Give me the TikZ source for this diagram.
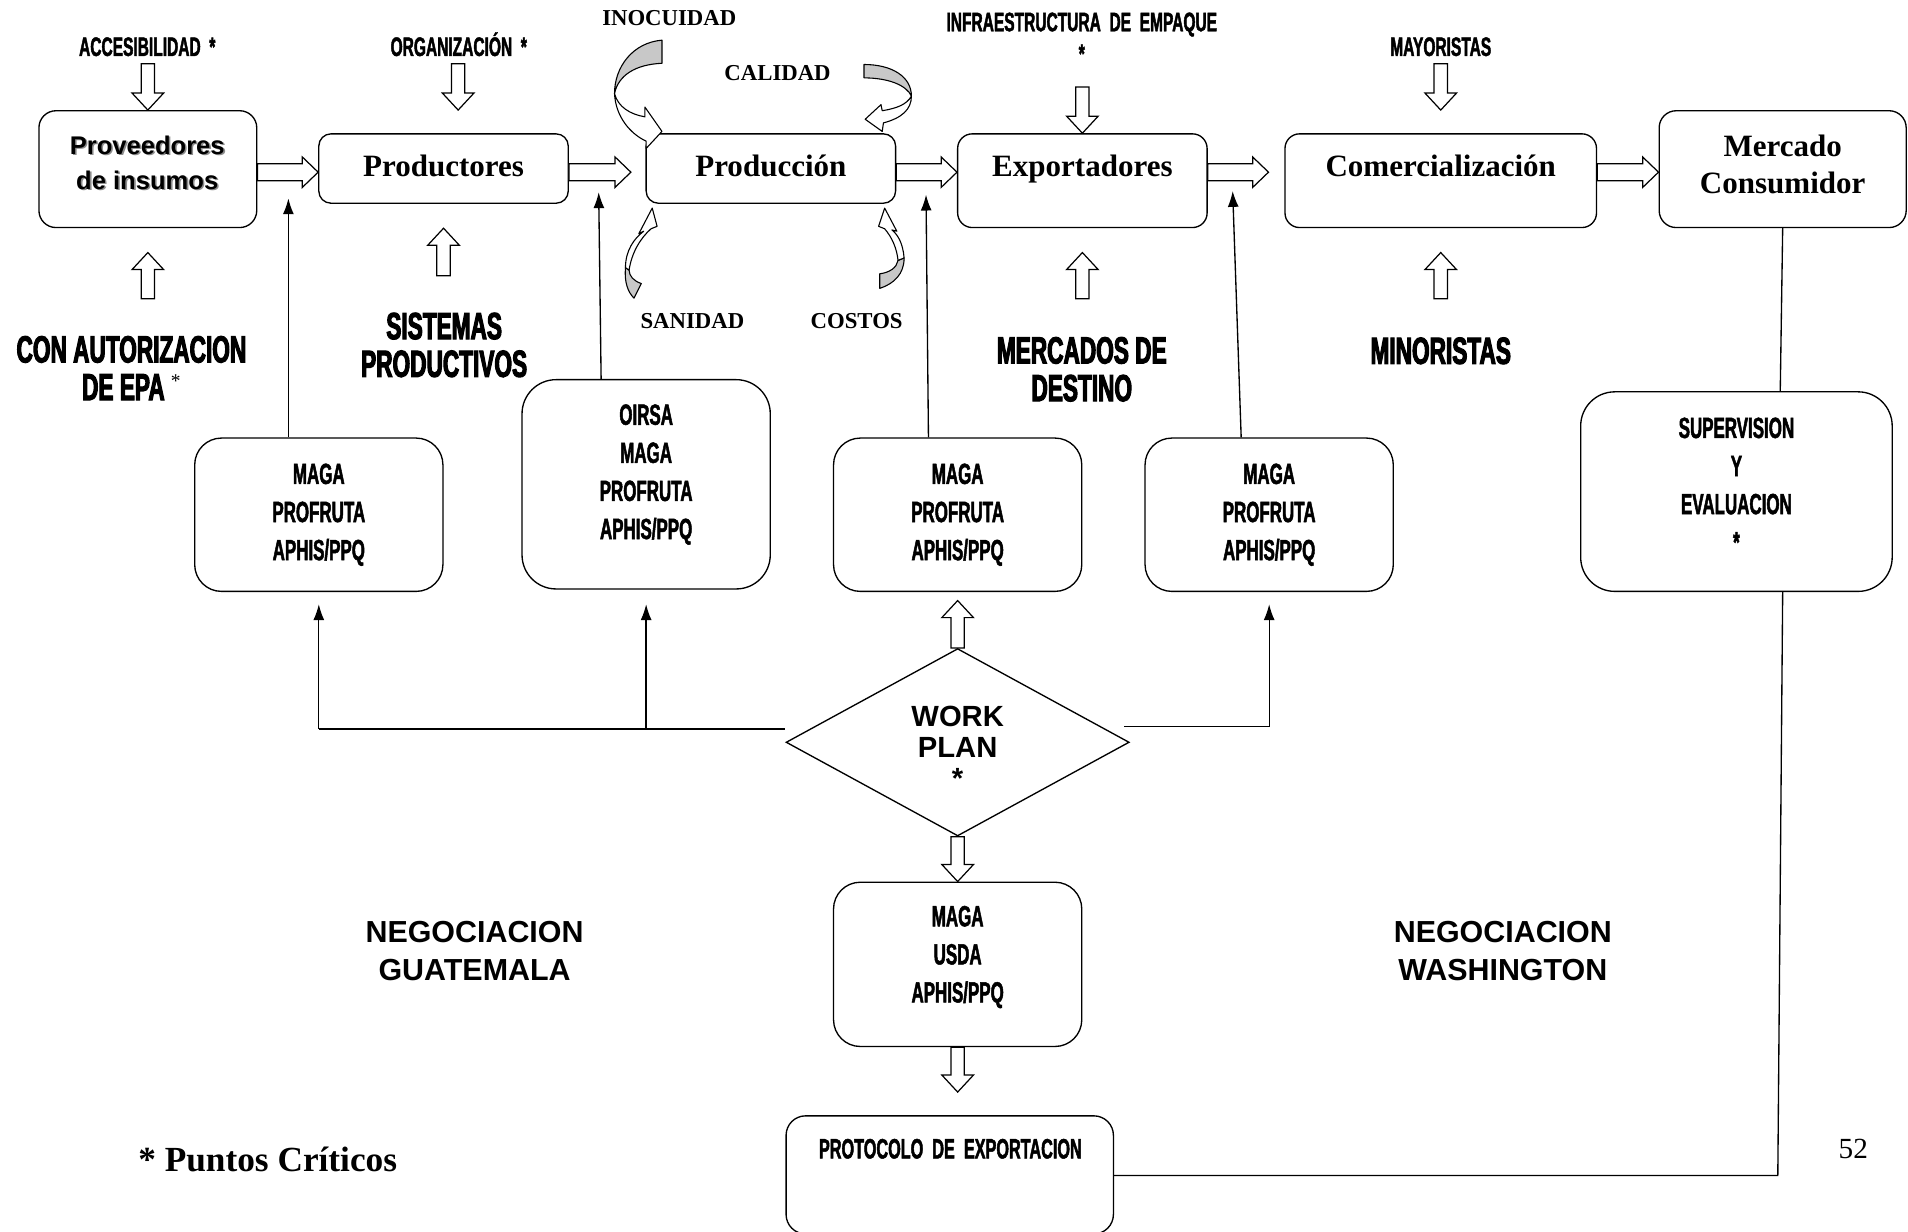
\documentclass[tikz,border=0pt]{standalone}
\usepackage{fontspec}
\setmainfont{Liberation Serif}
\newfontfamily\sansf{Liberation Sans}
\newfontfamily\condf[FakeStretch=0.58,FakeBold=1.6]{Liberation Sans}
\newfontfamily\condl[FakeStretch=0.6,FakeBold=2.8]{Liberation Sans}
\usetikzlibrary{shapes.geometric,arrows.meta,calc}
\definecolor{cg}{RGB}{200,200,200}
\newcommand\blkR[2]{\draw[blk] let \p1=(#1), \p2=(#2) in (\x1,\y1+7pt) -- (\x2-13pt,\y1+7pt) -- (\x2-13pt,\y1+12.5pt) -- (\x2,\y1) -- (\x2-13pt,\y1-12.5pt) -- (\x2-13pt,\y1-7pt) -- (\x1,\y1-7pt) -- cycle;}
\newcommand\blkD[2]{\draw[blk] let \p1=(#1), \p2=(#2) in (\x1-5.5pt,\y1) -- (\x1-5.5pt,\y2+14pt) -- (\x1-13pt,\y2+14pt) -- (\x1,\y2) -- (\x1+13pt,\y2+14pt) -- (\x1+5.5pt,\y2+14pt) -- (\x1+5.5pt,\y1) -- cycle;}
\newcommand\blkU[2]{\draw[blk] let \p1=(#1), \p2=(#2) in (\x1-5.5pt,\y1) -- (\x1-5.5pt,\y2-14pt) -- (\x1-13pt,\y2-14pt) -- (\x1,\y2) -- (\x1+13pt,\y2-14pt) -- (\x1+5.5pt,\y2-14pt) -- (\x1+5.5pt,\y1) -- cycle;}
\begin{document}
\begin{tikzpicture}[x=1pt,y=-1pt,
  bx/.style={draw, line width=1.1pt, rounded corners=#1, inner sep=0pt},
  bx/.default=12pt,
  blk/.style={draw, line width=1pt, fill=white, line join=miter},
  tar/.style={draw, line width=1.1pt, -{Latex[length=13pt,width=9pt]}},
  ln/.style={draw, line width=1.1pt},
  cur/.style={draw, line width=0.9pt, line join=round},
  serB/.style={font=\fontsize{25.5}{30}\selectfont\bfseries, inner sep=0pt},
  serS/.style={font=\fontsize{18.7}{22}\selectfont\bfseries, inner sep=0pt},
  csm/.style={font=\condf\bfseries\fontsize{22}{26}\selectfont, inner sep=0pt},
  cbx/.style={font=\condf\bfseries\fontsize{24}{31.3}\selectfont, align=center, inner sep=0pt},
  clg/.style={font=\condl\bfseries\fontsize{31}{31}\selectfont, align=center, inner sep=0pt},
  snb/.style={font=\sansf\bfseries\fontsize{25}{31}\selectfont, align=center, inner sep=0pt}]
\useasboundingbox (0,0) rectangle (1568,1012);
\fill[white] (0,0) rectangle (1568,1012);

% ---------- top row boxes
\node[bx=14pt, minimum width=179pt, minimum height=96pt] (prov) at (121.5,139) {};
\node[bx=10pt, minimum width=205pt, minimum height=57pt] (prod) at (364.5,138.5) {};
\node[bx=10pt, minimum width=205pt, minimum height=57pt] (prodn) at (633.5,138.5) {};
\node[bx=12pt, minimum width=205pt, minimum height=77pt] (exp) at (889.5,148.5) {};
\node[bx=12pt, minimum width=256pt, minimum height=77pt] (com) at (1184,148.5) {};
\node[bx=14pt, minimum width=203pt, minimum height=96pt] (mer) at (1465,139) {};

\node[snb, font=\sansf\bfseries\fontsize{21}{29}\selectfont, text=black!45] (provsh) at (122.3,134.8) {Proveedores\\de insumos};
\node[snb, font=\sansf\bfseries\fontsize{21}{29}\selectfont] (provt) at (121,133.6) {Proveedores\\de insumos};
\node[serB, anchor=base] (prodt) at (364.5,145) {Productores};
\node[serB, anchor=base] (prodnt) at (633.5,145) {Producción};
\node[serB, anchor=base] (expt) at (889.5,145) {Exportadores};
\node[serB, anchor=base] (comt) at (1184,145) {Comercialización};
\node[serB, align=center] (mert) at (1465,135) {Mercado\\Consumidor};

% ---------- middle boxes
\node[bx=22pt, cbx, minimum width=204pt, minimum height=126pt] (maga1) at (262,423) {MAGA\\PROFRUTA\\APHIS/PPQ};
\node[bx=28pt, minimum width=204pt, minimum height=172pt] (oirsa) at (531,398) {};
\node[cbx] (oirsat) at (531,390) {OIRSA\\MAGA\\PROFRUTA\\APHIS/PPQ};
\node[bx=22pt, cbx, minimum width=204pt, minimum height=126pt] (maga3) at (787,423) {MAGA\\PROFRUTA\\APHIS/PPQ};
\node[bx=22pt, cbx, minimum width=204pt, minimum height=126pt] (maga4) at (1043,423) {MAGA\\PROFRUTA\\APHIS/PPQ};
\node[bx=28pt, minimum width=256pt, minimum height=164pt] (sup) at (1427,404) {};
\node[cbx] (supt) at (1427,398.5) {SUPERVISION\\Y\\EVALUACION\\*};

% ---------- lower part
\node[draw, line width=1.1pt, diamond, minimum width=282pt, minimum height=154pt, inner sep=0pt] (wp) at (787,610) {};
\node[snb, font=\sansf\bfseries\fontsize{24}{25.5}\selectfont] (wpt) at (787,614) {WORK\\PLAN\\*};
\node[bx=22pt, minimum width=204pt, minimum height=135pt] (musda) at (787,792.5) {};
\node[cbx] (musdat) at (787,786.5) {MAGA\\USDA\\APHIS/PPQ};
\node[bx=16pt, minimum width=269pt, minimum height=97pt] (proto) at (780.5,965.5) {};
\node[csm, font=\condf\bfseries\fontsize{23}{26}\selectfont, anchor=base] (protot) at (781,952) {PROTOCOLO\ \ DE\ \ EXPORTACION};

% ---------- labels
\node[csm, anchor=base] (acc) at (121,46) {ACCESIBILIDAD\ \ *};
\node[csm, anchor=base] (org) at (377,46) {ORGANIZACIÓN\ \ *};
\node[csm, align=center] (infra) at (889,31) {INFRAESTRUCTURA\ \ DE\ \ EMPAQUE\\*};
\node[csm, anchor=base] (may) at (1184,46) {MAYORISTAS};
\node[serS, anchor=base] (ino) at (550,21) {INOCUIDAD};
\node[serS, anchor=base] (cal) at (639,66) {CALIDAD};
\node[serS, anchor=base] (san) at (569,270) {SANIDAD};
\node[serS, anchor=base] (cos) at (704,270) {COSTOS};
\node[clg] (aut) at (108,302.5) {CON AUTORIZACION\\DE EPA\,\raisebox{10pt}{\normalfont\fontsize{16}{16}\selectfont *}};
\node[clg] (sis) at (365,283.5) {SISTEMAS\\PRODUCTIVOS};
\node[clg] (mde) at (889,303.5) {MERCADOS DE\\DESTINO};
\node[clg, anchor=base] (mino) at (1184,299) {MINORISTAS};
\node[snb] (ngu) at (390,781.5) {NEGOCIACION\\GUATEMALA};
\node[snb] (nwa) at (1235,781.5) {NEGOCIACION\\WASHINGTON};
\node[font=\fontsize{29}{32}\selectfont\bfseries, inner sep=0pt, anchor=base] (ptc) at (220,963) {* Puntos Críticos};
\node[font=\fontsize{24}{26}\selectfont, inner sep=0pt, anchor=base] (pgn) at (1523,952) {52};

% ---------- horizontal block arrows
\coordinate (ar) at (0,141.5);
\blkR{prov.east |- ar}{prod.west |- ar}
\blkR{prod.east |- ar}{$(prodn.west |- ar)+(-12,0)$}
\blkR{prodn.east |- ar}{exp.west |- ar}
\blkR{exp.east |- ar}{$(com.west |- ar)+(-13,0)$}
\blkR{com.east |- ar}{mer.west |- ar}

% ---------- vertical block arrows
\blkD{$(prov.north)+(0,-38)$}{prov.north}
\blkD{$(prod.north)+(12,-57)$}{$(prod.north)+(12,-19)$}
\blkD{$(exp.north)+(0,-38)$}{exp.north}
\blkD{$(com.north)+(0,-57)$}{$(com.north)+(0,-19)$}
\blkU{$(prov.south)+(0,58)$}{$(prov.south)+(0,20)$}
\blkU{$(prod.south)+(0,59)$}{$(prod.south)+(0,20)$}
\blkU{$(exp.south)+(0,58)$}{$(exp.south)+(0,20)$}
\blkU{$(com.south)+(0,58)$}{$(com.south)+(0,20)$}
\blkU{wp.north}{$(maga3.south)+(0,7)$}
\blkD{wp.south}{musda.north}
\blkD{musda.south}{$(proto.north)+(0,-19)$}

% ---------- thin arrows
\coordinate (t1) at (237,163);
\coordinate (t2) at (492,158);
\coordinate (t3) at (761,160);
\coordinate (t4) at (1013,157);
\draw[tar] (maga1.north -| t1) -- (t1);
\draw[tar] ($(oirsa.north)+(-37,0)$) -- (t2);
\draw[tar] ($(maga3.north)+(-24,0)$) -- (t3);
\draw[tar] ($(maga4.north)+(-23,0)$) -- (t4);

\coordinate (hl) at (645,599);
\coordinate (hr) at (924,597);
\draw[ln] (hl) -- (hl -| maga1.south);
\draw[tar] (hl -| maga1.south) -- ($(maga1.south)+(0,10)$);
\draw[tar] (hl -| oirsa.south) -- ($(oirsa.south)+(0,12)$);
\draw[tar] (hr) -- (hr -| maga4.south) -- ($(maga4.south)+(0,10)$);

\draw[ln] (mer.south) -- ($(sup.north)+(36,0)$);
\coordinate (pr) at (1461,966);
\draw[ln] (proto.east |- pr) -- (pr) -- ($(sup.south)+(38,0)$);

% ---------- curved arrows around Produccion
% INOCUIDAD
\filldraw[cur, fill=cg] (544,33) .. controls (520,35) and (505,55) .. (505,77) .. controls (508,62) and (522,53) .. (544,52) -- cycle;
\filldraw[cur, fill=white] (505,77) .. controls (506,96) and (518,110) .. (531,116) -- (531,122) -- (544,108) -- (530,88) -- (530,96) .. controls (518,94) and (508,88) .. (505,77) -- cycle;
% CALIDAD
\filldraw[cur, fill=cg] (710,53) .. controls (733,53) and (749,63) .. (749,79) .. controls (745,70) and (730,64) .. (710,64) -- cycle;
\filldraw[cur, fill=white] (749,79) .. controls (749,90) and (741,97) .. (726,101) -- (725,108) -- (711,98) -- (724,86) -- (725,91) .. controls (737,89) and (745,86) .. (749,79) -- cycle;
% SANIDAD
\filldraw[cur, fill=cg] (514,220) .. controls (513,232) and (516,240) .. (521,245) -- (527,233) .. controls (521,231) and (517,227) .. (517,222) -- cycle;
\filldraw[cur, fill=white] (514,220) .. controls (514,206) and (521,196) .. (529,190) -- (525,192) -- (536,171) -- (540,186) -- (535,188) .. controls (526,196) and (519,208) .. (517,222) -- cycle;
% COSTOS
\filldraw[cur, fill=cg] (743,212) .. controls (743,225) and (735,233) .. (723,237) -- (723,225) .. controls (731,224) and (737,220) .. (738,214) -- cycle;
\filldraw[cur, fill=white] (743,212) .. controls (742,200) and (738,193) .. (733,189) -- (737,190) -- (727,171) -- (722,186) -- (727,188) .. controls (733,195) and (737,204) .. (738,214) -- cycle;
\end{tikzpicture}
\end{document}
